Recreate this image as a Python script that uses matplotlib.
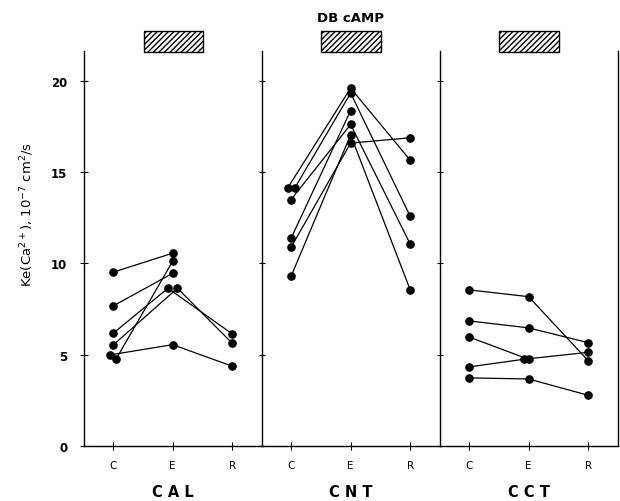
import numpy as np
import matplotlib
matplotlib.use("Agg")
import matplotlib.pyplot as plt
from matplotlib.patches import Rectangle

# =========================
# data (one row per preparation: C, E, R ; nan = no value)
# =========================
phases = ["C", "E", "R"]
groups = ["CAL", "CNT", "CCT"]

cal_c = [9.52, 7.67, 6.17, 5.53, 4.99, 4.77]
cal_e = [10.56, 9.46, 8.64, 8.64, 5.55, 10.12]
cal_r = [np.nan, np.nan, 6.14, 5.63, 4.37, np.nan]

cnt_c = [14.12, 14.12, 13.50, 11.38, 10.89, 9.30]
cnt_e = [19.60, 19.33, 17.61, 18.37, 16.59, 17.04]
cnt_r = [15.66, 12.59, 11.07, np.nan, 16.88, 8.56]

cct_c = [8.55, 6.85, 5.97, 4.33, 3.73]
cct_e = [8.18, 6.47, 4.75, 4.75, 3.67]
cct_r = [4.68, 5.66, np.nan, 5.13, 2.78]

yticks = [0, 5, 10, 15, 20]

# small sideways nudges so coinciding dots stay visible
nudge = {
    "CAL": [[0, 0, 0], [0, 0, 0], [0, -0.08, 0], [0, 0.08, 0], [-0.05, 0, 0], [0.05, 0, 0]],
    "CNT": [[-0.06, 0, 0], [0.06, 0, 0], [0, 0, 0], [0, 0, 0], [0, 0, 0], [0, 0, 0]],
    "CCT": [[0, 0, 0], [0, 0, 0], [0, 0, 0], [0, -0.08, 0], [0, 0, 0]],
}

panels = {
    "CAL": (cal_c, cal_e, cal_r),
    "CNT": (cnt_c, cnt_e, cnt_r),
    "CCT": (cct_c, cct_e, cct_r),
}

# =========================
# figure
# =========================
fig = plt.figure(figsize=(6.2, 5.02), dpi=100)
fig.patch.set_facecolor("white")

left, bottom, width, height = 0.1355, 0.1096, 0.287, 0.787
ytop = 21.64

for i, name in enumerate(groups):
    ax = fig.add_axes([left + i * width, bottom, width, height])
    c, e, r = panels[name]
    for k in range(len(c)):
        xs = np.arange(3) + np.array(nudge[name][k])
        ys = np.array([c[k], e[k], r[k]])
        ok = ~np.isnan(ys)
        ax.plot(xs[ok], ys[ok], "-o", color="black", lw=0.9, ms=5.2,
                clip_on=False)

    ax.set_xlim(-0.49, 2.5)
    ax.set_ylim(0, ytop)
    ax.set_xticks(range(3))
    ax.set_xticklabels(phases, fontsize=7.5)
    ax.set_yticks(yticks)
    ax.tick_params(direction="inout", length=6, width=0.8, pad=7)
    ax.spines["top"].set_visible(False)
    ax.spines["right"].set_visible(i == 2)
    for s in ax.spines.values():
        s.set_linewidth(1.0)
    if i == 0:
        ax.set_yticklabels([str(t) for t in yticks], fontsize=8.5,
                           fontweight="bold")
        ax.tick_params(axis="y", pad=9)
    else:
        ax.tick_params(axis="y", labelleft=False, length=5)

    # hatched treatment bar
    ax.add_patch(Rectangle((0.51, 21.6), 1.0, 1.15, facecolor="white",
                           edgecolor="black", hatch="//////", lw=1.0,
                           clip_on=False))

    ax.text(0.5, -0.115, " ".join(name), transform=ax.transAxes,
            ha="center", va="center", fontsize=10.5, fontweight="bold")

fig.text(0.566, 0.964, "DB cAMP", ha="center", va="center",
         fontsize=9.5, fontweight="bold")
fig.text(0.044, 0.572, r"Ke$\mathregular{(Ca^{2+})}$, 10$^{-7}$ cm$^2$/s",
         rotation=90, ha="center", va="center", fontsize=9.5)

plt.savefig("out.png", dpi=100, facecolor="white")
